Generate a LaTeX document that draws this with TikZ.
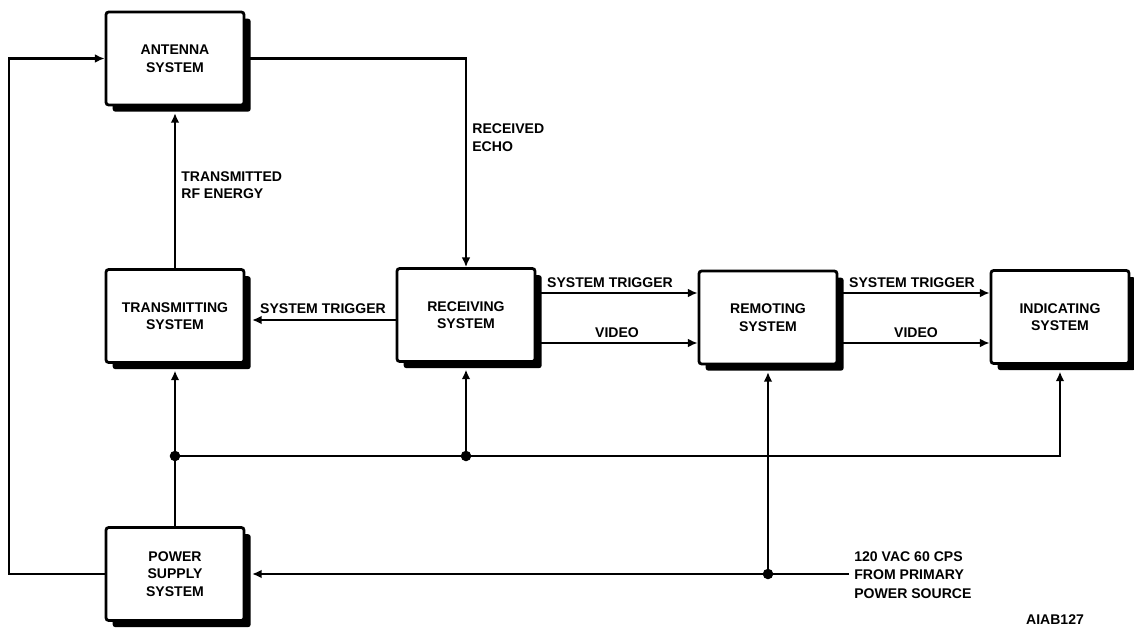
\documentclass[tikz,border=0pt]{standalone}
\usepackage{fontspec}
\setmainfont{Liberation Sans}
\usetikzlibrary{arrows.meta,shadows,calc}
\begin{document}
\begin{tikzpicture}[x=0.02cm,y=-0.02cm,
  every node/.style={font=\bfseries\fontsize{8}{10}\selectfont},
  sysbox/.style={draw, line width=1.6pt, fill=white, rounded corners=1.5pt,
    minimum width=2.76cm, minimum height=1.86cm, align=center, inner sep=0pt,
    drop shadow={shadow xshift=3.8pt, shadow yshift=-3.8pt, fill=black, opacity=1}},
  conn/.style={line width=1.7pt, -{Latex[length=5.5pt,width=5pt]}},
  plain/.style={line width=1.7pt},
  lbl/.style={inner sep=0pt, align=left},
  jdot/.style={circle, fill=black, minimum size=6pt, inner sep=0pt}
]
\useasboundingbox (0,0) rectangle (1134,629);

% boxes
\node[sysbox] (ant) at (175,58.5) {ANTENNA\\SYSTEM};
\node[sysbox] (tx)  at (175,316) {TRANSMITTING\\SYSTEM};
\node[sysbox] (rx)  at (466,315) {RECEIVING\\SYSTEM};
\node[sysbox] (rem) at (768,317.5) {REMOTING\\SYSTEM};
\node[sysbox] (ind) at (1060,317) {INDICATING\\SYSTEM};
\node[sysbox] (pwr) at (175,574) {POWER\\SUPPLY\\SYSTEM};

% helper coordinates
\coordinate (lc) at (9,0);
\coordinate (yt) at (0,293);
\coordinate (yv) at (0,343);
\coordinate (ys) at (0,320);
\coordinate (bus) at (0,456);
\coordinate (src) at (849,574);
\node[jdot] (j1) at (tx.south |- bus) {};
\node[jdot] (j2) at (rx.south |- bus) {};
\node[jdot] (j3) at (rem.south |- src) {};

% connectors
\draw[conn] (pwr.west) -- (pwr.west -| lc) -- (lc |- ant.west) -- (ant.west);
\draw[conn] (ant.east) -| (rx.north);
\draw[conn, shorten >=3.8pt] (tx.north) -- (ant.south);
\draw[conn, shorten >=3.8pt] (rx.west |- ys) -- (tx.east |- ys);
\draw[conn] (rx.east |- yt) -- (rem.west |- yt);
\draw[conn] (rx.east |- yv) -- (rem.west |- yv);
\draw[conn] (rem.east |- yt) -- (ind.west |- yt);
\draw[conn] (rem.east |- yv) -- (ind.west |- yv);
\draw[plain] (pwr.north) -- (j1.center);
\draw[conn, shorten >=3.8pt] (j1.center) -- (tx.south);
\draw[conn, shorten >=3.8pt] (j2.center) -- (rx.south);
\draw[conn, shorten >=3.8pt] (j1.center) -- (ind.south |- bus) -- (ind.south);
\draw[conn, shorten >=3.8pt] (j3.center) -- (rem.south);
\draw[conn, shorten >=3.8pt] (src) -- (pwr.east);

% labels
\node[lbl, anchor=west] (l1) at (181,185) {TRANSMITTED\\RF ENERGY};
\node[lbl, anchor=west] (l2) at (472,137.5) {RECEIVED\\ECHO};
\node[lbl] (l3) at (323,309) {SYSTEM TRIGGER};
\node[lbl] (l4) at (610,283) {SYSTEM TRIGGER};
\node[lbl] (l5) at (617,333) {VIDEO};
\node[lbl] (l6) at (912,283) {SYSTEM TRIGGER};
\node[lbl] (l7) at (916,333) {VIDEO};
\node[lbl, anchor=west, font=\bfseries\fontsize{8}{10.6}\selectfont] (l8) at (854,575) {120 VAC 60 CPS\\FROM PRIMARY\\POWER SOURCE};
\node[lbl] (l9) at (1055,620) {AIAB127};
\end{tikzpicture}
\end{document}
